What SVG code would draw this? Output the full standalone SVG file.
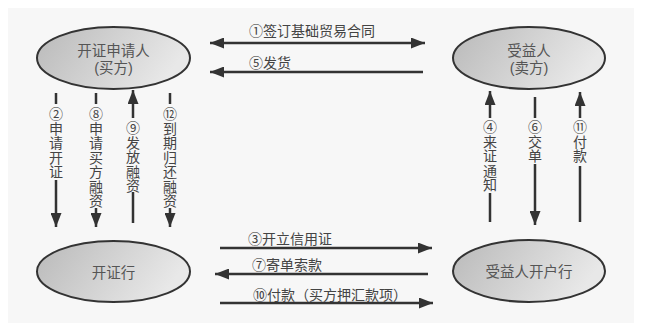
<svg xmlns="http://www.w3.org/2000/svg" width="649" height="333" viewBox="0 0 649 333">
<defs>
<linearGradient id="g" x1="0" y1="0" x2="1" y2="0.3">
<stop offset="0" stop-color="#b9b9b9"/>
<stop offset="1" stop-color="#e8e8e8"/>
</linearGradient>
<marker id="ah" markerUnits="userSpaceOnUse" markerWidth="15" markerHeight="11" refX="14" refY="5.5" orient="auto-start-reverse">
<path d="M0,0 L14,5.5 L0,11 z" fill="#333"/>
</marker>
</defs>
<style>
.node ellipse{fill:url(#g);stroke:#333;stroke-width:2}
.nt{font-family:"Liberation Sans","Noto Sans CJK SC",sans-serif;font-size:14.5px;fill:#555;text-anchor:middle;dominant-baseline:central}
.lb{font-family:"Noto Sans CJK SC","Liberation Sans",sans-serif;font-size:14px;fill:#444;dominant-baseline:central}
.vl{font-family:"Noto Sans CJK SC","Liberation Sans",sans-serif;font-size:14px;fill:#444;writing-mode:vertical-rl;text-orientation:upright;letter-spacing:0.5px}
.c line{stroke:#333;stroke-width:2.5}
.ae{marker-end:url(#ah)}
.ab{marker-start:url(#ah);marker-end:url(#ah)}
</style>
<rect x="0" y="0" width="649" height="333" fill="#ffffff"/>
<rect x="8" y="8" width="626" height="315" fill="#f7f7f7"/>

<g id="applicant" class="node">
<ellipse cx="113.5" cy="58" rx="76.5" ry="31"/>
<text class="nt"><tspan x="113.5" y="51">开证申请人</tspan><tspan x="113.5" y="68">(买方)</tspan></text>
</g>
<g id="beneficiary" class="node">
<ellipse cx="529" cy="58" rx="76" ry="31"/>
<text class="nt"><tspan x="529" y="51">受益人</tspan><tspan x="529" y="68">(卖方)</tspan></text>
</g>
<g id="issuing-bank" class="node">
<ellipse cx="113.5" cy="271.5" rx="76.5" ry="30.5"/>
<text class="nt" x="113.5" y="273">开证行</text>
</g>
<g id="advising-bank" class="node">
<ellipse cx="529" cy="271" rx="76" ry="31"/>
<text class="nt" x="529" y="272">受益人开户行</text>
</g>

<g id="connectors" class="c">
<line class="ab" x1="210" y1="43" x2="425" y2="43"/>
<text class="lb" x="249" y="30">①签订基础贸易合同</text>
<line class="ae" x1="423" y1="72" x2="210" y2="72"/>
<text class="lb" x="249" y="62">⑤发货</text>
<line class="ae" x1="220" y1="248" x2="432" y2="248"/>
<text class="lb" x="248" y="238">③开立信用证</text>
<line class="ae" x1="428" y1="274" x2="215" y2="274"/>
<text class="lb" x="252" y="264">⑦寄单索款</text>
<line class="ae" x1="220" y1="303" x2="433" y2="303"/>
<text class="lb" x="253" y="294">⑩付款（买方押汇款项）</text>

<line x1="56" y1="93" x2="56" y2="104"/>
<line class="ae" x1="56" y1="180" x2="56" y2="227"/>
<text class="vl" x="56" y="107">②申请开证</text>

<line x1="96" y1="93" x2="96" y2="104"/>
<line class="ae" x1="96" y1="208" x2="96" y2="227"/>
<text class="vl" x="96" y="107">⑧申请买方融资</text>

<line class="ae" x1="133" y1="118" x2="133" y2="90"/>
<line x1="133" y1="192" x2="133" y2="223"/>
<text class="vl" x="133" y="121">⑨发放融资</text>

<line x1="170" y1="93" x2="170" y2="104"/>
<line class="ae" x1="170" y1="208" x2="170" y2="227"/>
<text class="vl" x="170" y="107">⑫到期归还融资</text>

<line class="ae" x1="490" y1="118" x2="490" y2="91"/>
<line x1="490" y1="193" x2="490" y2="222"/>
<text class="vl" x="490" y="120">④来证通知</text>

<line x1="535" y1="97" x2="535" y2="118"/>
<line class="ae" x1="535" y1="164" x2="535" y2="225"/>
<text class="vl" x="535" y="120">⑥交单</text>

<line class="ae" x1="580" y1="118" x2="580" y2="92"/>
<line x1="580" y1="166" x2="580" y2="222"/>
<text class="vl" x="580" y="120">⑪付款</text>
</g>
</svg>
